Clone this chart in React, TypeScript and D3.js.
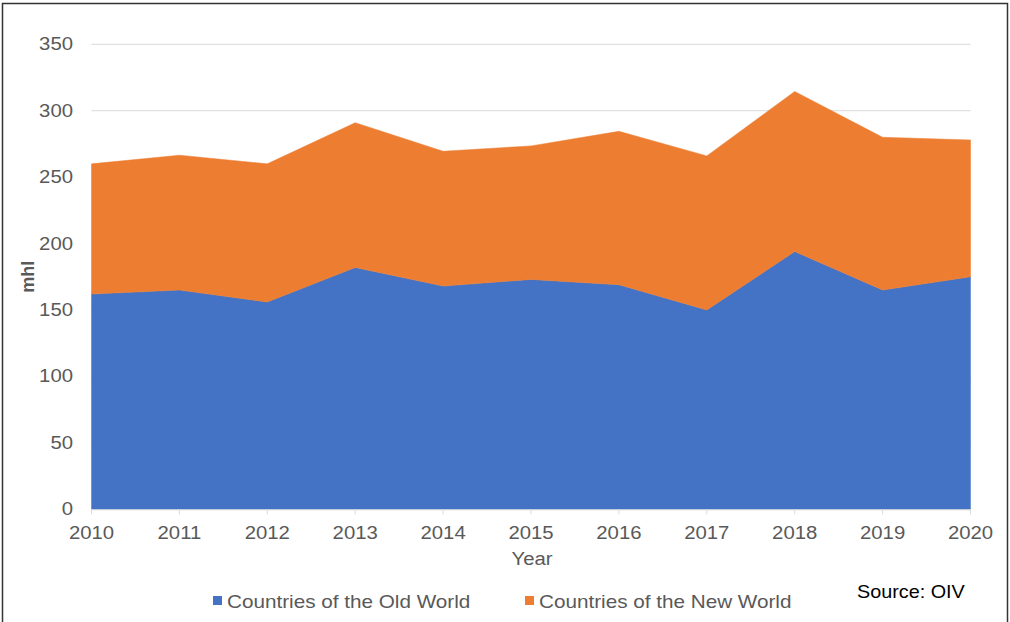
import React from "react";
import * as d3 from "d3";

const years = [2010, 2011, 2012, 2013, 2014, 2015, 2016, 2017, 2018, 2019, 2020];
const oldWorld = [162, 165, 156, 182, 168, 173, 169, 150, 194, 165, 175];
const newWorld = [98, 101.5, 104, 109, 101.5, 100.5, 115.5, 116, 120.5, 115, 103];
const yTicks = [0, 50, 100, 150, 200, 250, 300, 350];
const seriesNames = ["Countries of the Old World", "Countries of the New World"];
const seriesColors = ["#4472C4", "#ED7D31"];

const W = 1010;
const H = 622;
const FONT = "'Liberation Sans', Arial, sans-serif";
const SX = 1.13;

function T(props: {
  x: number;
  y: number;
  anchor?: string;
  size?: number;
  fill?: string;
  weight?: string;
  sx?: number;
  children: React.ReactNode;
}) {
  const { x, y, anchor = "start", size = 18, fill = "#595959", weight = "normal", sx = SX, children } = props;
  return (
    <text
      transform={`translate(${x},${y}) scale(${sx},1)`}
      textAnchor={anchor}
      fontSize={size}
      fill={fill}
      fontWeight={weight}
    >
      {children}
    </text>
  );
}

export default function App() {
  const x = d3.scaleLinear().domain([2010, 2020]).range([91.5, 970.5]);
  const y = d3.scaleLinear().domain([0, 350]).range([509.3, 44.3]);

  const rows = years.map((yr, i) => ({ year: yr, old: oldWorld[i], nw: newWorld[i] }));
  const stack = d3.stack<any>().keys(["old", "nw"])(rows);
  const area = d3
    .area<any>()
    .x((d) => x(d.data.year))
    .y0((d) => y(d[0]))
    .y1((d) => y(d[1]));

  return (
    <svg
      width={W}
      height={H}
      style={{ position: "absolute", left: 0, top: 0, background: "#fff" }}
      fontFamily={FONT}
    >
      <rect x={0} y={0} width={W} height={H} fill="#fff" />
      <rect x={2.5} y={3.5} width={1005} height={640} fill="none" stroke="#333" strokeWidth={1.5} />
      {yTicks.map((t) => (
        <g key={t}>
          {t > 0 && (
            <line x1={x(2010)} x2={x(2020)} y1={y(t)} y2={y(t)} stroke="#d9d9d9" strokeWidth={1} />
          )}
          <T x={73} y={y(t) + 6} anchor="end">
            {t}
          </T>
        </g>
      ))}
      {stack.map((s, i) => (
        <path key={i} d={area(s) || ""} fill={seriesColors[i]} stroke={seriesColors[i]} strokeWidth={0.5} />
      ))}
      <line x1={x(2010)} x2={x(2020)} y1={y(0) + 0.5} y2={y(0) + 0.5} stroke="#d9d9d9" />
      {years.map((yr) => (
        <g key={yr}>
          <line x1={x(yr)} x2={x(yr)} y1={y(0)} y2={y(0) + 5} stroke="#d9d9d9" />
          <T x={x(yr)} y={539} anchor="middle">
            {yr}
          </T>
        </g>
      ))}
      <T x={532} y={565} anchor="middle">
        Year
      </T>
      <text
        transform={`translate(34, ${y(175)}) rotate(-90)`}
        textAnchor="middle"
        fontSize={18}
        fontWeight="bold"
        fill="#595959"
      >
        mhl
      </text>
      {seriesNames.map((n, i) => {
        const lx = i === 0 ? 213 : 525;
        return (
          <g key={n}>
            <rect x={lx} y={596} width={9} height={9} fill={seriesColors[i]} />
            <T x={lx + 14} y={608} sx={1.15}>
              {n}
            </T>
          </g>
        );
      })}
      <T x={857} y={598} fill="#000" sx={1.1}>
        Source: OIV
      </T>
    </svg>
  );
}
